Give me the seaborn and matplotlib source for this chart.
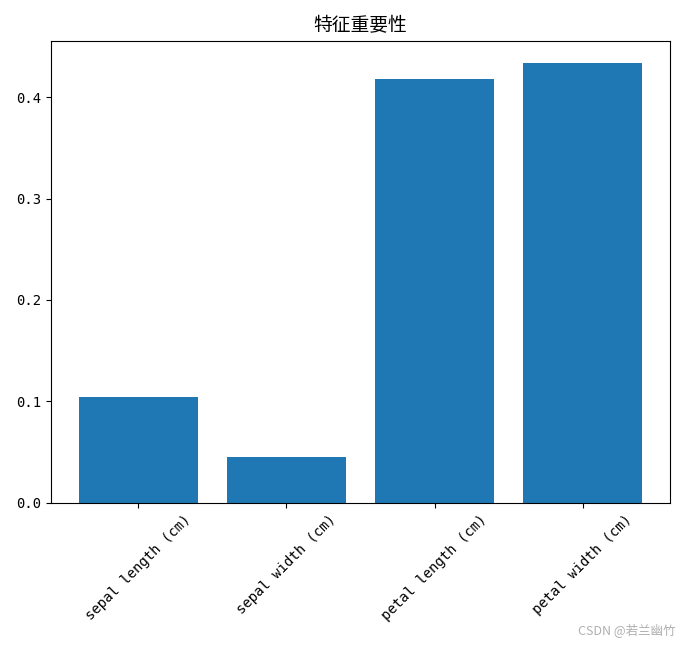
import matplotlib
matplotlib.use("Agg")
import matplotlib.pyplot as plt
import seaborn as sns
import pandas as pd

features = ["sepal length (cm)", "sepal width (cm)", "petal length (cm)", "petal width (cm)"]
importances = [0.1044, 0.0453, 0.4177, 0.4335]

df = pd.DataFrame({"feature": features, "importance": importances})

plt.rcParams["font.family"] = ["Noto Sans CJK SC", "DejaVu Sans"]
plt.rcParams["axes.unicode_minus"] = False

fig, ax = plt.subplots(figsize=(6.84, 6.45), dpi=100)
fig.subplots_adjust(left=0.0746, right=0.9795, top=0.9364, bottom=0.2202)

sns.barplot(data=df, x="feature", y="importance", color="#1f77b4",
            saturation=1, width=0.8, ax=ax)

ax.set_xlim(-0.59, 3.59)
ax.set_ylim(0, max(importances) * 1.05)
ax.set_title("特征重要性", fontsize=13.5, pad=7)
ax.set_xlabel("")
ax.set_ylabel("")
plt.xticks(rotation=45, family="DejaVu Sans Mono", fontsize=10)
plt.yticks(family="DejaVu Sans Mono", fontsize=10)

fig.text(0.988, 0.012, "CSDN @若兰幽竹", ha="right", va="bottom",
         color="#b0b0b0", fontsize=9)

fig.savefig("out.png", dpi=100)
